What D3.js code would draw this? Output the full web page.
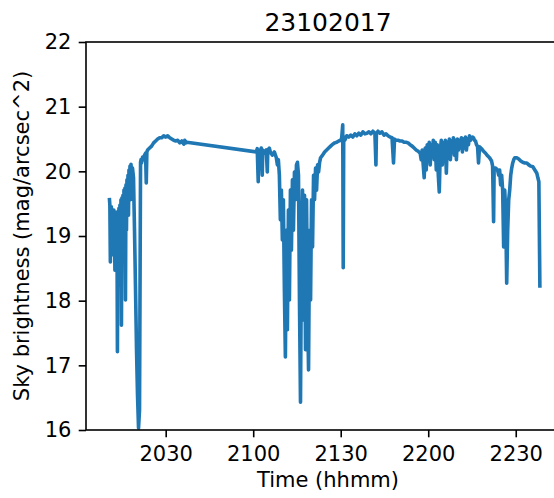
<!DOCTYPE html>
<html>
<head>
<meta charset="utf-8">
<script src="https://cdn.jsdelivr.net/npm/d3@7"></script>
<style>
  body { margin: 0; background: #fff; }
  text { font-family: "DejaVu Sans", sans-serif; fill: #000; }
</style>
</head>
<body>
<div class="container"></div>
<script>
// Sky brightness readings, 23 Oct 2017, minutes after 20:00
const minutesAfter20 = [
  10.69, 10.86, 11.03, 11.21, 11.38, 11.55, 11.72, 11.90, 12.07, 12.24, 12.41, 12.59, 12.76, 12.93, 13.10, 13.28,
  13.45, 13.62, 13.79, 13.97, 14.14, 14.31, 14.48, 14.66, 14.83, 15.00, 15.17, 15.34, 15.52, 15.69, 15.86, 16.03,
  16.21, 16.38, 16.55, 16.72, 16.90, 17.07, 17.24, 17.41, 17.59, 17.76, 17.93, 18.10, 18.28, 18.62, 18.97, 19.31,
  19.66, 20.00, 20.34, 20.69, 21.03, 21.38,
  21.55, 21.72, 22.07, 22.41, 22.76, 23.10, 23.34, 23.55, 23.79, 24.48, 25.17, 25.86, 26.55, 27.24, 27.93, 28.62,
  29.31, 30.00, 30.69, 31.38, 32.07, 32.76, 33.45, 34.14, 34.83, 35.52, 36.21, 36.55, 36.90, 37.24,
  61.03, 61.38, 61.72, 61.90, 62.41, 62.76, 63.10, 63.28, 63.79, 64.48, 64.83, 65.00, 65.52, 65.86, 66.55, 67.24,
  67.93, 68.28, 68.62, 68.97, 69.31, 69.66, 70.00, 70.34, 70.69, 71.03, 71.38, 71.72, 72.07, 72.41, 72.76, 73.10,
  73.45, 73.79, 74.14, 74.48, 74.83, 75.17, 75.52, 75.86, 76.21, 76.55, 76.90, 77.24, 77.59, 77.93, 78.28, 78.62,
  78.97, 79.31, 79.66, 80.00, 80.34, 80.69, 81.03, 81.38, 81.72, 82.07, 82.41, 82.76, 83.10, 83.79, 84.48, 85.17,
  85.86, 86.55, 87.24, 87.93, 88.62, 89.31, 90.00, 90.34, 90.69, 90.86, 91.03, 91.38, 92.07, 92.76, 93.45, 94.14,
  94.83, 95.52, 96.21, 96.90, 97.59, 98.28, 98.97, 99.66, 100.34, 101.03, 101.72, 102.07, 102.24, 102.76, 103.45, 104.14,
  104.83, 105.52, 106.21, 106.90, 107.59, 108.10, 108.45, 108.97, 109.66, 110.34, 111.03, 111.72, 112.41, 113.10, 113.79, 114.48,
  115.17, 115.86, 116.55, 117.24, 117.59, 117.93, 118.28, 118.62, 118.97, 119.31, 119.66, 120.00, 120.34, 120.69, 121.03, 121.38,
  121.72, 122.07, 122.41, 122.76, 123.10, 123.45, 123.79, 124.14, 124.48, 124.83, 125.17, 125.52, 125.86, 126.21, 126.55, 126.90,
  127.24, 127.59, 127.93, 128.28, 128.62, 128.97, 129.31, 129.66, 130.00, 130.34, 130.69, 131.03, 131.38, 131.72, 132.07, 132.41,
  132.76, 133.10, 133.45, 133.79, 134.14, 134.48, 134.83, 135.17, 135.52, 135.86, 136.21, 136.55, 136.90, 137.24, 137.59, 138.28,
  138.97, 139.66, 140.34, 141.03, 141.72, 142.07, 142.41, 142.59, 143.10, 143.79, 144.14, 144.48, 144.83, 145.17, 145.52, 145.86,
  146.21, 146.55, 146.90, 147.24, 147.59, 147.93, 148.28, 148.62, 148.97, 149.31, 149.66, 150.34, 151.03, 151.72, 152.41, 153.10,
  153.79, 154.48, 155.17, 155.86, 156.55, 157.24, 157.59, 157.93, 158.28
];
const skyBrightness = [
  19.59, 19.48, 18.60, 19.32, 19.45, 18.71, 19.37, 19.28, 18.86, 19.40, 19.32, 18.47, 19.36, 19.17, 18.63, 19.37,
  17.21, 19.32, 19.09, 19.43, 18.78, 19.48, 18.24, 19.56, 17.62, 19.59, 18.94, 19.63, 18.63, 19.71, 19.17, 19.74,
  18.01, 19.79, 19.09, 19.87, 19.40, 19.94, 19.32, 20.02, 19.71, 20.08, 19.56, 20.11, 19.99, 20.05, 19.90, 19.09,
  18.17, 17.24, 16.54, 16.03, 16.31, 20.14,
  20.18, 20.13, 20.22, 20.18, 20.25, 20.28, 19.82, 20.30, 20.33, 20.36, 20.39, 20.44, 20.47, 20.50, 20.52, 20.52,
  20.55, 20.53, 20.55, 20.52, 20.50, 20.48, 20.47, 20.48, 20.44, 20.47, 20.42, 20.48, 20.44, 20.45,
  20.30, 20.35, 19.84, 20.33, 20.30, 20.36, 19.94, 20.33, 20.28, 20.33, 19.99, 20.33, 20.36, 20.30, 20.25, 20.30,
  20.21, 20.10, 20.18, 19.94, 19.25, 19.71, 18.94, 19.56, 18.17, 17.13, 19.09, 17.55, 19.40, 18.01, 19.71, 18.78,
  19.87, 19.09, 19.99, 19.56, 20.10, 20.14, 19.94, 18.01, 16.43, 18.78, 19.71, 17.70, 19.63, 17.24, 19.56, 18.01,
  16.93, 19.09, 18.01, 19.56, 18.83, 19.94, 19.56, 20.05, 19.71, 20.10, 19.99, 20.14, 20.21, 20.25, 20.30, 20.33,
  20.36, 20.39, 20.42, 20.44, 20.45, 20.47, 20.48, 20.52, 20.72, 18.51, 20.53, 20.48, 20.55, 20.53, 20.56, 20.53,
  20.58, 20.55, 20.59, 20.56, 20.61, 20.58, 20.59, 20.61, 20.58, 20.62, 20.59, 20.10, 20.59, 20.62, 20.59, 20.61,
  20.56, 20.58, 20.55, 20.53, 20.52, 20.13, 20.50, 20.48, 20.48, 20.47, 20.47, 20.45, 20.45, 20.44, 20.41, 20.39,
  20.36, 20.33, 20.31, 20.28, 20.18, 20.33, 20.10, 19.90, 20.36, 20.02, 20.41, 20.18, 20.45, 20.10, 20.41, 20.25,
  20.48, 20.18, 20.45, 20.02, 20.41, 19.94, 19.68, 20.33, 20.48, 20.10, 20.44, 20.21, 20.48, 19.97, 20.45, 20.25,
  20.50, 20.18, 20.47, 20.33, 20.52, 20.25, 20.48, 20.18, 20.50, 20.33, 20.48, 20.36, 20.52, 20.30, 20.50, 20.36,
  20.53, 20.33, 20.50, 20.41, 20.55, 20.48, 20.52, 20.53, 20.52, 20.48, 20.47, 20.41, 20.39, 20.13, 20.38, 20.35,
  20.31, 20.28, 20.24, 20.21, 20.16, 20.08, 19.22, 20.05, 20.05, 20.02, 19.94, 20.02, 19.79, 19.94, 19.71, 18.83,
  19.71, 19.40, 18.27, 19.09, 19.56, 19.71, 19.94, 20.05, 20.13, 20.18, 20.21, 20.21, 20.19, 20.16, 20.14, 20.13,
  20.13, 20.10, 20.08, 20.07, 20.02, 19.97, 19.90, 19.84, 18.20
];
const yTicks = [16, 17, 18, 19, 20, 21, 22];
const xTickLabels = ['2030', '2100', '2130', '2200', '2230'];
const titleText = '23102017';

const W = 554, H = 498;
const margin = {top: 42, left: 86, bottom: 68};
const plotRight = 570;            // right spine lies just off the picture
const plotBottom = H - margin.bottom;
const fontSize = 21;

const day = new Date(2017, 9, 23, 20, 0, 0);
const toDate = m => new Date(day.getTime() + m * 60000);
const hhmmToDate = s => new Date(2017, 9, 23, +s.slice(0, 2), +s.slice(2));

let data = minutesAfter20.map((m, i) => ({t: toDate(m), v: skyBrightness[i]}));

let x = d3.scaleTime()
    .domain([toDate(2.68), toDate(168.6)])
    .range([margin.left, plotRight]);
let y = d3.scaleLinear()
    .domain([16, 22])
    .range([plotBottom, margin.top]);

let svg = d3.select('.container')
    .append('svg')
    .attr('width', W)
    .attr('height', H);

svg.append('defs').append('clipPath').attr('id', 'clip')
    .append('rect')
    .attr('x', margin.left).attr('y', margin.top)
    .attr('width', plotRight - margin.left).attr('height', plotBottom - margin.top);

// the series
let line = d3.line().x(d => x(d.t)).y(d => y(d.v));
svg.append('path')
    .datum(data)
    .attr('clip-path', 'url(#clip)')
    .attr('d', line)
    .attr('fill', 'none')
    .attr('stroke', '#1f77b4')
    .attr('stroke-width', 3.6)
    .attr('stroke-linejoin', 'round');

// Axes
let xAxis = d3.axisBottom(x)
    .tickValues(xTickLabels.map(hhmmToDate))
    .tickFormat(d3.timeFormat('%H%M'))
    .tickSize(7.3).tickPadding(7.3);
let yAxis = d3.axisLeft(y)
    .tickValues(yTicks)
    .tickFormat(d3.format('d'))
    .tickSize(7.3).tickPadding(7.3);

let gx = svg.append('g')
    .attr('transform', 'translate(0,' + plotBottom + ')')
    .call(xAxis);
let gy = svg.append('g')
    .attr('transform', 'translate(' + margin.left + ',0)')
    .call(yAxis);
[gx, gy].forEach(g => {
    g.select('.domain').remove();
    g.selectAll('line').attr('stroke', '#000').attr('stroke-width', 1.6);
    g.selectAll('text')
        .style('font-family', '"DejaVu Sans", sans-serif')
        .style('font-size', fontSize + 'px')
        .attr('fill', '#000');
});
gx.selectAll('text').attr('dy', '0.78em');

// spines
svg.append('rect')
    .attr('x', margin.left).attr('y', margin.top)
    .attr('width', plotRight - margin.left).attr('height', plotBottom - margin.top)
    .attr('fill', 'none')
    .attr('stroke', '#000')
    .attr('stroke-width', 1.6);

// labels
svg.append('text')
    .text(titleText)
    .attr('x', (margin.left + plotRight) / 2)
    .attr('y', 31)
    .style('font-size', '25px')
    .style('text-anchor', 'middle');
svg.append('text')
    .text('Time (hhmm)')
    .attr('x', (margin.left + plotRight) / 2)
    .attr('y', 487)
    .style('font-size', fontSize + 'px')
    .style('text-anchor', 'middle');
svg.append('text')
    .text('Sky brightness (mag/arcsec^2)')
    .attr('transform', 'translate(29,' + (margin.top + plotBottom) / 2 + ') rotate(-90)')
    .style('font-size', fontSize + 'px')
    .style('text-anchor', 'middle');
</script>
</body>
</html>
